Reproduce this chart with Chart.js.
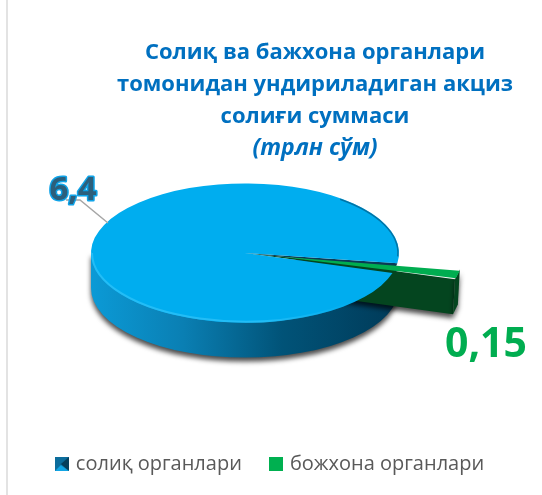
<!DOCTYPE html>
<html lang="en">
<head>
    <meta charset="UTF-8">
    <title>Акциз солиғи</title>
    <script src="https://cdn.jsdelivr.net/npm/chart.js"></script>
    <style>
        body { margin: 0; background: #fff; }
        canvas { display: block; }
    </style>
</head>
<body>
    <canvas id="pieChart" width="542" height="495"></canvas>
    <script>
        const categories = ['солиқ органлари', 'божхона органлари'];
        const values = [6.4, 0.15];
        const titleLines = ['Солиқ ва бажхона органлари', 'томонидан ундириладиган акциз', 'солиғи суммаси'];
        const subtitleText = '(трлн сўм)';

        const centerX = 245, centerY = 253;   // where the pie sits on the page
        const squash = 0.452;
        const depth = 35;

        // legend marker for the blue series
        function blueMarker() {
            const c = document.createElement('canvas');
            c.width = 14; c.height = 14;
            const m = c.getContext('2d');
            m.fillStyle = '#0c6d9c'; m.fillRect(0, 0, 14, 14);
            m.fillStyle = '#063f5c';
            m.beginPath(); m.moveTo(14, 0); m.lineTo(14, 14); m.lineTo(6, 7); m.fill();
            m.fillStyle = '#12a5e4';
            m.beginPath(); m.moveTo(0, 14); m.lineTo(14, 14); m.lineTo(6, 8); m.fill();
            return c;
        }
        function greenMarker() {
            const c = document.createElement('canvas');
            c.width = 14; c.height = 14;
            const m = c.getContext('2d');
            m.fillStyle = '#00b050'; m.fillRect(0, 0, 14, 14);
            return c;
        }
        const markers = [blueMarker(), greenMarker()];

        // turn a point of the flat pie into page coordinates
        function project(arc, x, y) {
            return { x: centerX + (x - arc.x), y: centerY + (y - arc.y) * squash };
        }

        // how far Chart.js really shifts an arc for its offset option
        function pullOut(arc) {
            return arc.options.offset / 4 * (2 - Math.sin(arc.circumference));
        }

        function greenEdge(arc, angle) {
            const mid = (arc.startAngle + arc.endAngle) / 2;
            const off = pullOut(arc);
            return project(arc,
                arc.x + Math.cos(mid) * off + Math.cos(angle) * arc.outerRadius,
                arc.y + Math.sin(mid) * off + Math.sin(angle) * arc.outerRadius);
        }

        const pie3d = {
            id: 'pie3d',
            afterLayout(chart) {
                // title sits right of the chart centre in the original
                chart.boxes.forEach(box => {
                    if (box.options && box.options.text) box.left += 88;
                });
                chart.legend.top -= 11;
            },
            beforeDatasetsDraw(chart) {
                const ctx = chart.ctx;
                const arcs = chart.getDatasetMeta(0).data;
                const blue = arcs[0], green = arcs[1];
                const rx = blue.outerRadius, ry = rx * squash;

                // side wall of the big slice
                ctx.save();
                const wall = ctx.createLinearGradient(centerX - rx, 0, centerX + rx, 0);
                wall.addColorStop(0, '#0b9ad6');
                wall.addColorStop(0.3, '#0a7fb3');
                wall.addColorStop(0.62, '#015378');
                wall.addColorStop(1, '#003a58');
                ctx.shadowColor = 'rgba(0,0,0,0.7)';
                ctx.shadowBlur = 5;
                ctx.shadowOffsetY = 4;
                ctx.fillStyle = wall;
                ctx.beginPath();
                ctx.ellipse(centerX, centerY + depth, rx, ry, 0, 0, Math.PI);
                ctx.lineTo(centerX - rx, centerY);
                ctx.lineTo(centerX + rx - 4, centerY + 10);
                ctx.closePath();
                ctx.fill();

                // side walls of the pulled out slice: long front face, short end face
                const mid = (green.startAngle + green.endAngle) / 2;
                const off = pullOut(green);
                const apex = project(green, green.x + Math.cos(mid) * off, green.y + Math.sin(mid) * off);
                const tipA = greenEdge(green, green.startAngle);
                const tipB = greenEdge(green, green.endAngle);
                ctx.fillStyle = '#04451f';
                ctx.beginPath();
                ctx.moveTo(apex.x, apex.y);
                ctx.lineTo(tipB.x, tipB.y);
                ctx.lineTo(tipB.x - 2, tipB.y + depth);
                ctx.lineTo(apex.x, apex.y + depth);
                ctx.closePath();
                ctx.fill();
                ctx.beginPath();
                ctx.moveTo(tipA.x, tipA.y);
                ctx.lineTo(tipB.x, tipB.y);
                ctx.lineTo(tipB.x - 2, tipB.y + depth);
                ctx.lineTo(tipA.x - 2, tipA.y + depth);
                ctx.closePath();
                ctx.fill();
                ctx.restore();

                // the gap left in the big slice
                ctx.save();
                ctx.fillStyle = '#0b3a55';
                ctx.beginPath();
                ctx.moveTo(centerX, centerY);
                const a = project(green, green.x + Math.cos(green.startAngle) * rx, green.y + Math.sin(green.startAngle) * rx);
                const b = project(green, green.x + Math.cos(mid) * rx, green.y + Math.sin(mid) * rx);
                const d = project(green, green.x + Math.cos(green.endAngle) * rx, green.y + Math.sin(green.endAngle) * rx);
                ctx.lineTo(a.x, a.y); ctx.lineTo(b.x, b.y); ctx.closePath(); ctx.fill();
                ctx.fillStyle = '#04451f';
                ctx.beginPath();
                ctx.moveTo(centerX, centerY);
                ctx.lineTo(b.x, b.y); ctx.lineTo(d.x, d.y); ctx.closePath(); ctx.fill();
                ctx.restore();

                // squash the library's own arcs into the top face
                ctx.save();
                ctx.translate(centerX, centerY);
                ctx.scale(1, squash);
                ctx.translate(-blue.x, -blue.y);
            },
            afterDatasetsDraw(chart) {
                const ctx = chart.ctx;
                ctx.restore();
                const arcs = chart.getDatasetMeta(0).data;
                const blue = arcs[0];
                const rx = blue.outerRadius, ry = rx * squash;

                // bright bevel along the front edge
                ctx.save();
                const rim = ctx.createLinearGradient(centerX - rx, 0, centerX + rx, 0);
                rim.addColorStop(0, '#23bdf6');
                rim.addColorStop(0.55, '#23bdf6');
                rim.addColorStop(0.85, 'rgba(35,189,246,0)');
                ctx.strokeStyle = rim;
                ctx.lineWidth = 2;
                ctx.beginPath();
                ctx.ellipse(centerX, centerY, rx - 1, ry - 1, 0, 0.3, Math.PI);
                ctx.stroke();

                // darker bevel on the far right edge
                ctx.strokeStyle = 'rgba(2,70,105,0.55)';
                ctx.lineWidth = 1.5;
                ctx.beginPath();
                ctx.ellipse(centerX, centerY, rx - 1, ry - 1, 0, -0.9, 0.05);
                ctx.stroke();
                ctx.restore();

                // leader line
                ctx.save();
                ctx.strokeStyle = '#a6a6a6';
                ctx.lineWidth = 1.5;
                ctx.beginPath();
                ctx.moveTo(66, 200);
                ctx.lineTo(80, 200);
                ctx.lineTo(108, 223);
                ctx.stroke();

                // value labels
                const labels = values.map(v => String(v).replace('.', ','));
                ctx.textBaseline = 'alphabetic';
                ctx.textAlign = 'center';
                ctx.font = 'bold 33px "Open Sans"';
                ctx.lineJoin = 'round';
                ctx.strokeStyle = '#0fa3e8';
                ctx.lineWidth = 3;
                ctx.strokeText(labels[0], 73, 200);
                ctx.fillStyle = '#2c5f7c';
                ctx.fillText(labels[0], 73, 200);
                ctx.font = 'bold 41px "Open Sans"';
                ctx.fillStyle = '#00ad50';
                ctx.fillText(labels[1], 486, 357);
                ctx.restore();

                // border of the original frame
                ctx.save();
                ctx.fillStyle = '#e3e3e3';
                ctx.fillRect(6, 0, 2, 495);
                ctx.restore();
            }
        };

        new Chart(document.getElementById('pieChart').getContext('2d'), {
            type: 'pie',
            data: {
                labels: categories,
                datasets: [{
                    data: values,
                    backgroundColor: ['#00adef', '#00ad50'],
                    borderWidth: 0,
                    offset: [0, 138],
                    clip: false
                }]
            },
            options: {
                responsive: false,
                animation: false,
                radius: 154,
                rotation: 106.7,
                plugins: {
                    tooltip: { enabled: false },
                    title: {
                        display: true,
                        text: titleLines,
                        color: '#0070c0',
                        font: { family: '"Open Sans"', size: 22, weight: 'bold', lineHeight: 1.45 },
                        padding: { top: 37, bottom: 0 }
                    },
                    subtitle: {
                        display: true,
                        text: subtitleText,
                        color: '#0070c0',
                        font: { family: '"Open Sans"', size: 23, weight: 'bold', style: 'italic', lineHeight: 1.4 },
                        padding: 0
                    },
                    legend: {
                        position: 'bottom',
                        labels: {
                            color: '#595959',
                            font: { family: '"Open Sans"', size: 20 },
                            boxWidth: 14,
                            boxHeight: 14,
                            padding: 30,
                            usePointStyle: true,
                            pointStyleWidth: 8,
                            generateLabels: chart => categories.map((name, i) => ({
                                text: name,
                                pointStyle: markers[i],
                                fontColor: '#595959',
                                lineWidth: 0,
                                strokeStyle: 'transparent',
                                index: i
                            }))
                        }
                    }
                }
            },
            plugins: [pie3d]
        });
    </script>
</body>
</html>
